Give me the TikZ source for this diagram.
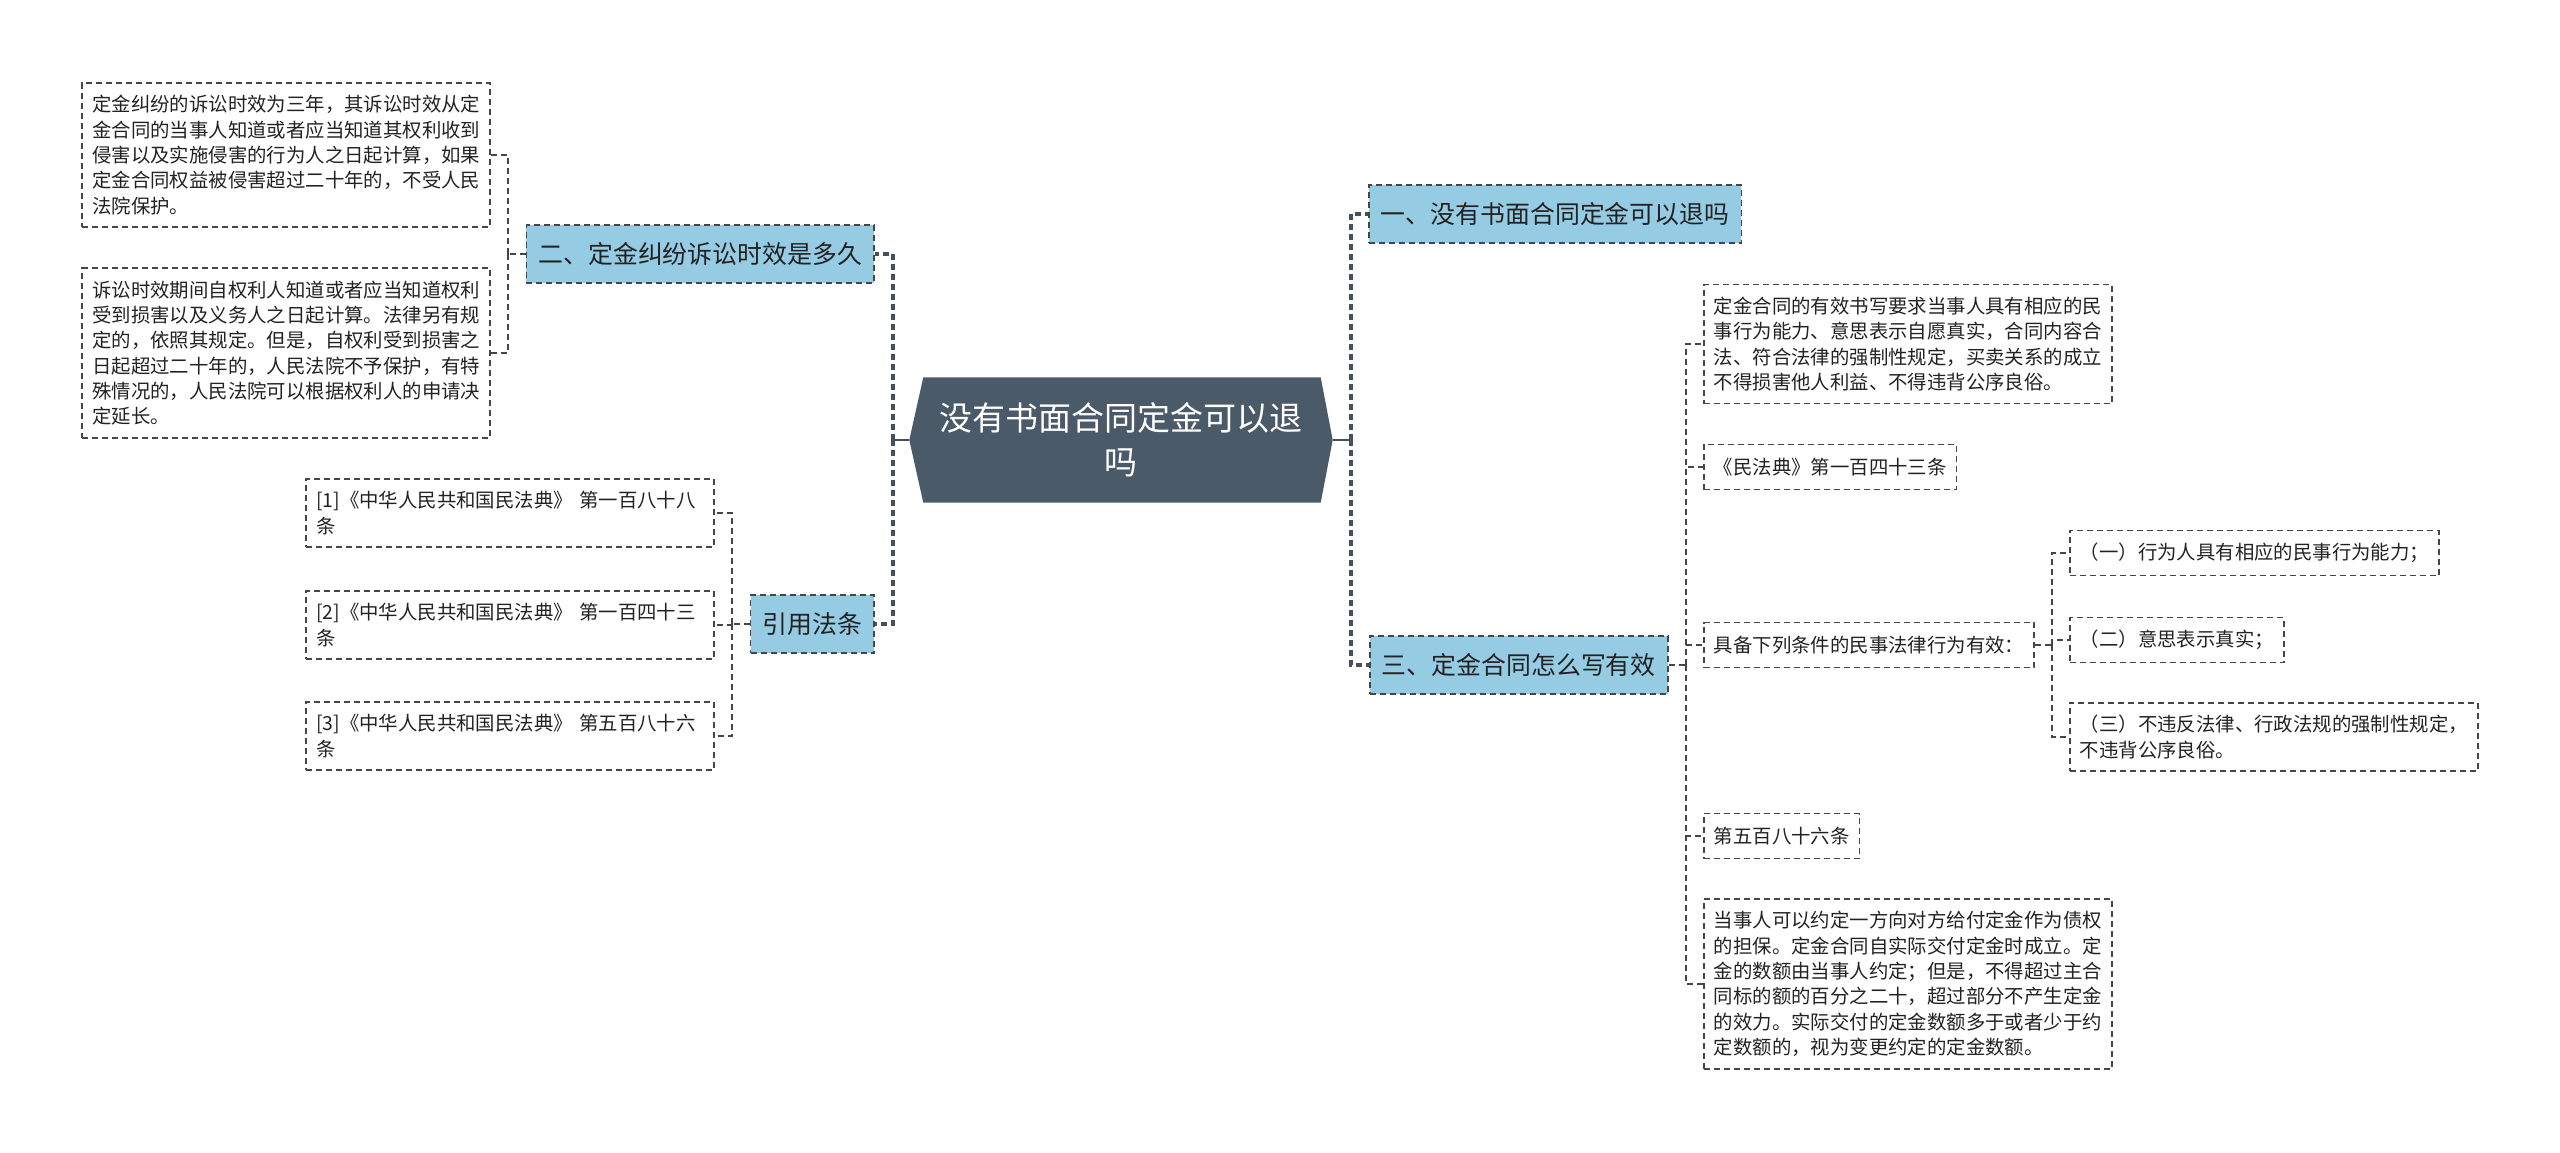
\documentclass[tikz,border=0pt]{standalone}
\usepackage{fontspec}
\setmainfont{Noto Sans CJK SC}
\usetikzlibrary{positioning,backgrounds}

\definecolor{topicblue}{RGB}{150,203,228}
\definecolor{rootfill}{RGB}{75,90,105}
\definecolor{linegray}{RGB}{70,70,70}
\definecolor{trunkgray}{RGB}{70,80,92}
\definecolor{textdark}{RGB}{34,34,34}

\tikzset{
  root/.style={text=white, font=\fontsize{33pt}{44pt}\selectfont, align=center,
    minimum width=423pt, minimum height=125pt, inner sep=0pt},
  topic/.style={draw=linegray, dash pattern=on 6pt off 4pt, line width=1.7pt,
    fill=topicblue, text=textdark, font=\fontsize{24.9pt}{30pt}\selectfont,
    inner xsep=12pt, inner ysep=0pt, minimum height=58pt, anchor=west},
  leaf/.style={draw=linegray, dash pattern=on 6pt off 4pt, line width=1.6pt,
    text=textdark, font=\fontsize{19.4pt}{25.3pt}\selectfont, align=left,
    inner xsep=10pt, inner ysep=12.5pt, minimum height=45pt, anchor=west},
  wide/.style={leaf, text width=388pt},
  trunk/.style={draw=trunkgray, line width=3.2pt, dash pattern=on 6pt off 4pt},
  twig/.style={draw=linegray, line width=1.6pt, dash pattern=on 6pt off 4pt},
}

\begin{document}
\begin{tikzpicture}[x=1pt, y=-1pt]
\useasboundingbox (0,0) rectangle (2560,1152);

% root
\node[root] (root) at (1121,440) {没有书面合同定金可以退\\吗};
\begin{scope}[on background layer]
  \fill[rootfill] ([xshift=14pt]root.north west) -- ([xshift=-12pt]root.north east)
    -- (root.east) -- ([xshift=-12pt]root.south east)
    -- ([xshift=14pt]root.south west) -- (root.west) -- cycle;
\end{scope}

% main topics
\node[topic] (t1) at (1368,214) {一、没有书面合同定金可以退吗};
\node[topic] (t3) at (1369,665) {三、定金合同怎么写有效};
\node[topic, anchor=east] (t2) at (875,254) {二、定金纠纷诉讼时效是多久};
\node[topic, anchor=east] (t4) at (875,624) {引用法条};

% left leaves
\node[wide, anchor=east] (l1) at (491,155) {定金纠纷的诉讼时效为三年，其诉讼时效从定\\
  金合同的当事人知道或者应当知道其权利收到\\
  侵害以及实施侵害的行为人之日起计算，如果\\
  定金合同权益被侵害超过二十年的，不受人民\\
  法院保护。};
\node[wide, anchor=east] (l2) at (491,353) {诉讼时效期间自权利人知道或者应当知道权利\\
  受到损害以及义务人之日起计算。法律另有规\\
  定的，依照其规定。但是，自权利受到损害之\\
  日起超过二十年的，人民法院不予保护，有特\\
  殊情况的，人民法院可以根据权利人的申请决\\
  定延长。};

\node[wide, anchor=east] (r1) at (715,513) {[1]《中华人民共和国民法典》~第一百八十八\\条};
\node[wide, anchor=east] (r2) at (715,625) {[2]《中华人民共和国民法典》~第一百四十三\\条};
\node[wide, anchor=east] (r3) at (715,736) {[3]《中华人民共和国民法典》~第五百八十六\\条};

% right leaves
\node[wide] (s1) at (1703,344) {定金合同的有效书写要求当事人具有相应的民\\
  事行为能力、意思表示自愿真实，合同内容合\\
  法、符合法律的强制性规定，买卖关系的成立\\
  不得损害他人利益、不得违背公序良俗。};
\node[leaf] (s2) at (1703,467) {《民法典》第一百四十三条};
\node[leaf] (s3) at (1703,645) {具备下列条件的民事法律行为有效：};
\node[leaf] (s4) at (1703,836) {第五百八十六条};
\node[wide] (s5) at (1703,984) {当事人可以约定一方向对方给付定金作为债权\\
  的担保。定金合同自实际交付定金时成立。定\\
  金的数额由当事人约定；但是，不得超过主合\\
  同标的额的百分之二十，超过部分不产生定金\\
  的效力。实际交付的定金数额多于或者少于约\\
  定数额的，视为变更约定的定金数额。};

\node[leaf] (u1) at (2069,553) {（一）行为人具有相应的民事行为能力；};
\node[leaf] (u2) at (2069,640) {（二）意思表示真实；};
\node[wide] (u3) at (2069,737) {（三）不违反法律、行政法规的强制性规定，\\不违背公序良俗。};

% junctions
\coordinate (jl) at (893,440);
\coordinate (jr) at (1351,440);
\coordinate (j2) at (508,254);
\coordinate (j4) at (732,624);
\coordinate (j3) at (1686,665);
\coordinate (js3) at (2052,645);

% connectors
\draw[trunkgray, line width=1.6pt] (root.west) -- (jl);
\draw[trunkgray, line width=1.6pt] (root.east) -- (jr);
\foreach \n in {t2,t4} \draw[trunk] (jl) |- (\n.east);
\foreach \n in {t1,t3} \draw[trunk] (jr) |- (\n.west);

\draw[twig] (t2.west) -- (j2);
\foreach \n in {l1,l2} \draw[twig] (j2) |- (\n.east);
\draw[twig] (t4.west) -- (j4);
\foreach \n in {r1,r2,r3} \draw[twig] (j4) |- (\n.east);
\draw[twig] (t3.east) -- (j3);
\foreach \n in {s1,s2,s3,s4,s5} \draw[twig] (j3) |- (\n.west);
\draw[twig] (s3.east) -- (js3);
\foreach \n in {u1,u2,u3} \draw[twig] (js3) |- (\n.west);

\end{tikzpicture}
\end{document}
